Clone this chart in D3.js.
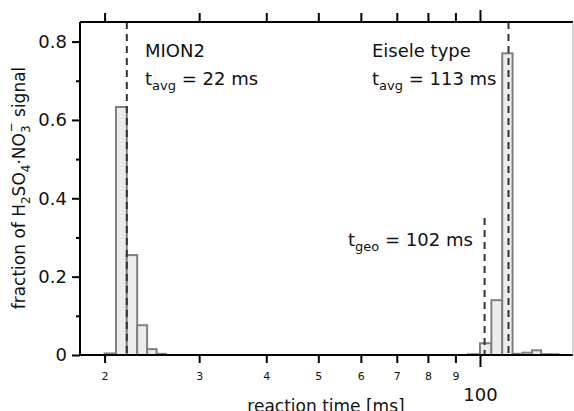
<!DOCTYPE html>
<html>
<head>
<meta charset="utf-8">
<script src="https://cdn.jsdelivr.net/npm/d3@7"></script>
<style>
  body { margin: 0; background: #fff; }
  text { font-family: "DejaVu Sans", Verdana, sans-serif; fill: #111; }
</style>
</head>
<body>
<script>
// bin edges (ms) and fractions
var mionEdges = [20, 21, 22, 23, 24, 25, 26];
var mionValues = [0.004, 0.633, 0.255, 0.076, 0.015, 0.003];

var eiseleEdges = [95, 100, 105, 110, 115, 120, 125, 130, 135, 140];
var eiseleValues = [0.002, 0.03, 0.14, 0.77, 0.003, 0.006, 0.012, 0.002, 0.002];

var xTicks = [20, 30, 40, 50, 60, 70, 80, 90, 100];
var xTickLabels = ["2", "3", "4", "5", "6", "7", "8", "9", "100"];
var yTicks = [0, 0.2, 0.4, 0.6, 0.8];
var yMinorTicks = [0.1, 0.3, 0.5, 0.7];

var avgTimes = [22, 113];
var geoTime = 102;
var geoTop = 0.35;

// note: "top" is taken by window.top, so plot edges get a prefix
var W = 574, H = 411;
var pLeft = 80, pRight = 573, pTop = 22, pBottom = 355;

var x = d3.scaleLog().domain([18, 149]).range([pLeft, pRight]);
var y = d3.scaleLinear().domain([0, 0.85]).range([pBottom, pTop]);

var svg = d3.select("body").append("svg")
    .attr("xmlns", "http://www.w3.org/2000/svg")
    .attr("width", W)
    .attr("height", H);

// build bars from edges + values
function toBins(edges, values) {
    return values.map(function(v, i) { return {x0: edges[i], x1: edges[i + 1], v: v}; });
}
var bins = toBins(mionEdges, mionValues).concat(toBins(eiseleEdges, eiseleValues));

svg.selectAll("rect.bar").data(bins)
    .enter().append("rect")
    .attr("class", "bar")
    .attr("x", function(d) { return x(d.x0); })
    .attr("width", function(d) { return x(d.x1) - x(d.x0); })
    .attr("y", function(d) { return y(d.v); })
    .attr("height", function(d) { return y(0) - y(d.v); })
    .attr("fill", "#ececec")
    .attr("stroke", "#808080")
    .attr("stroke-width", 2);

// dashed markers
svg.selectAll("line.avg").data(avgTimes)
    .enter().append("line")
    .attr("class", "avg")
    .attr("x1", function(d) { return x(d); })
    .attr("x2", function(d) { return x(d); })
    .attr("y1", y(0.85))
    .attr("y2", y(0))
    .attr("stroke", "#333")
    .attr("stroke-width", 2)
    .attr("stroke-dasharray", "7,5");

svg.append("line")
    .attr("x1", x(geoTime)).attr("x2", x(geoTime))
    .attr("y1", y(geoTop)).attr("y2", y(0))
    .attr("stroke", "#333")
    .attr("stroke-width", 2)
    .attr("stroke-dasharray", "7,5");

// axes
function styleAxis(g) {
    g.select(".domain").attr("stroke", "#000").attr("stroke-width", 2);
    g.selectAll(".tick line").attr("stroke", "#000").attr("stroke-width", 2);
}

var xAxis = svg.append("g")
    .attr("transform", "translate(0," + pBottom + ")")
    .call(d3.axisBottom(x).tickValues(xTicks).tickSizeOuter(0).tickSize(8).tickPadding(11)
        .tickFormat(function(d, i) { return xTickLabels[i]; }))
    .call(styleAxis);
xAxis.select(".domain").attr("d", "M" + pLeft + ",0H" + pRight);
xAxis.selectAll(".tick text")
    .attr("font-family", "DejaVu Sans, Verdana, sans-serif")
    .attr("font-size", function(d) { return d === 100 ? 18 : 11; })
    .attr("y", function(d) { return d === 100 ? 33 : 17; })
    .attr("fill", "#111");
xAxis.selectAll(".tick line").attr("y2", function(d) { return d === 100 ? 12 : 8; });

var xTop = svg.append("g")
    .attr("transform", "translate(0," + pTop + ")")
    .call(d3.axisTop(x).tickValues(xTicks).tickSizeOuter(0).tickSize(9).tickFormat(""))
    .call(styleAxis);
xTop.select(".domain").attr("d", "M" + pLeft + ",0H" + pRight);
xTop.selectAll(".tick line").attr("y2", function(d) { return d === 100 ? -12 : -9; });

var yAxis = svg.append("g")
    .attr("transform", "translate(" + pLeft + ",0)")
    .call(d3.axisLeft(y).tickValues(yTicks).tickSizeOuter(0).tickSize(8).tickPadding(5)
        .tickFormat(function(d) { return d === 0 ? "0" : d3.format(".1f")(d); }))
    .call(styleAxis);
yAxis.select(".domain").attr("d", "M0," + pBottom + "V" + pTop);
yAxis.selectAll(".tick text")
    .attr("font-family", "DejaVu Sans, Verdana, sans-serif")
    .attr("font-size", 18)
    .attr("fill", "#111");

svg.append("g")
    .attr("transform", "translate(" + pLeft + ",0)")
    .call(d3.axisLeft(y).tickValues(yMinorTicks).tickSize(4).tickFormat(""))
    .call(styleAxis)
    .select(".domain").remove();

// right frame edge
svg.append("line")
    .attr("x1", pRight).attr("x2", pRight)
    .attr("y1", pTop).attr("y2", pBottom)
    .attr("stroke", "#aaa").attr("stroke-width", 1);

// axis titles
svg.append("text")
    .attr("x", 326).attr("y", 412)
    .attr("text-anchor", "middle")
    .attr("font-size", 17)
    .text("reaction time [ms]");

var yl = svg.append("text")
    .attr("transform", "translate(25,188) rotate(-90)")
    .attr("text-anchor", "middle")
    .attr("font-size", 17);
yl.append("tspan").text("fraction of H");
yl.append("tspan").attr("font-size", 12).attr("dy", 5).text("2");
yl.append("tspan").attr("dy", -5).text("SO");
yl.append("tspan").attr("font-size", 12).attr("dy", 5).text("4");
yl.append("tspan").attr("dy", -5).text("\u00b7NO");
yl.append("tspan").attr("font-size", 12).attr("dy", 5).text("3");
yl.append("tspan").attr("font-size", 12).attr("dx", -7).attr("dy", -15).text("\u2212");
yl.append("tspan").attr("dy", 10).text(" signal");

// annotations
function label(xp, yp, lines) {
    lines.forEach(function(l, i) {
        var t = svg.append("text").attr("x", xp).attr("y", yp + i * 28).attr("font-size", 18);
        t.append("tspan").text(l[0]);
        if (l[1]) {
            t.append("tspan").attr("font-size", 13).attr("dy", 5).text(l[1]);
            t.append("tspan").attr("dy", -5).text(l[2]);
        }
    });
}
label(145, 57, [["MION2"], ["t", "avg", " = 22 ms"]]);
label(372, 57, [["Eisele type"], ["t", "avg", " = 113 ms"]]);
label(348, 246, [["t", "geo", " = 102 ms"]]);
</script>
</body>
</html>
